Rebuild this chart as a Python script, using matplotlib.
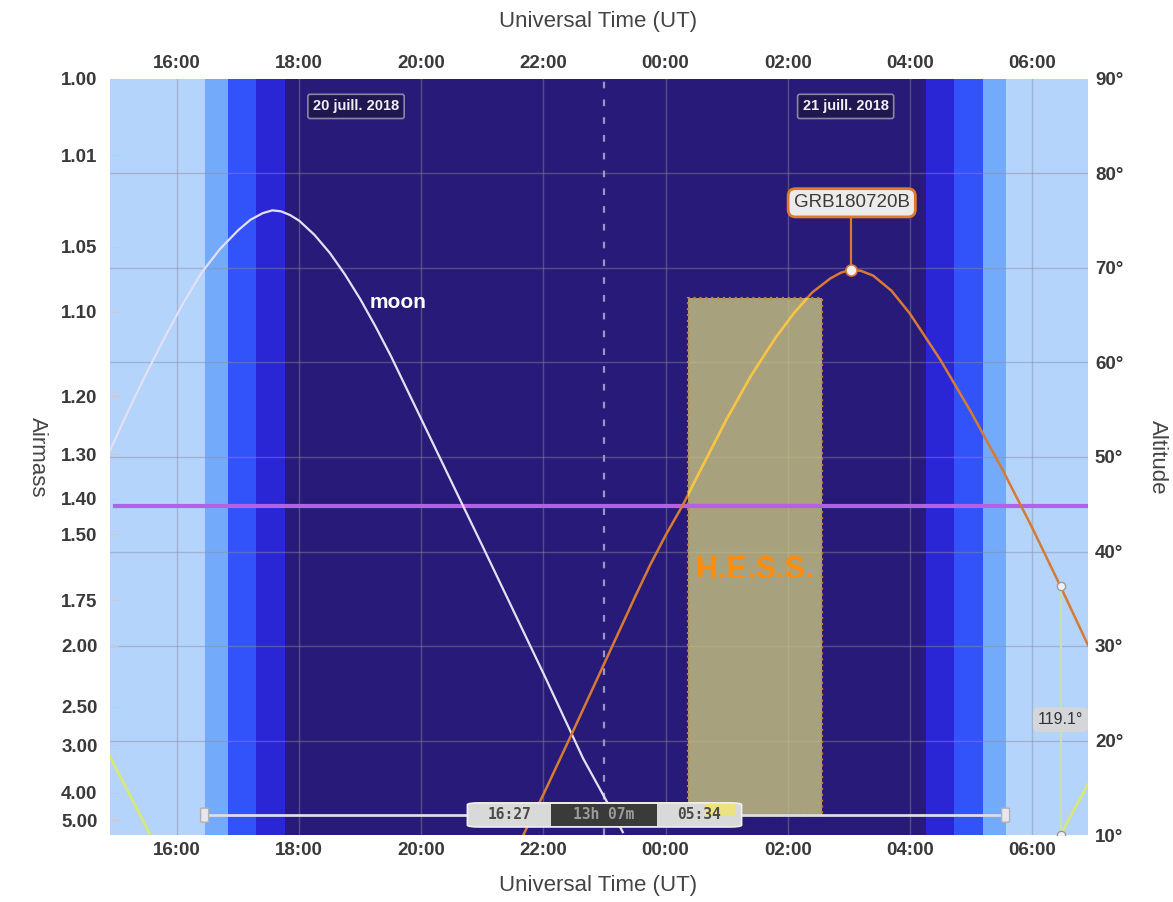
import numpy as np
import matplotlib
matplotlib.use("Agg")
import matplotlib.pyplot as plt
from matplotlib.patches import Rectangle, FancyBboxPatch

plt.rcParams['font.family'] = ['Liberation Sans', 'DejaVu Sans']

# ---- data (time in hours since 2018-07-20 00:00 UT, altitude in degrees) ----
moon_t = [14.90, 15.20, 15.50, 15.80, 16.10, 16.40, 16.70, 17.00, 17.20, 17.40,
          17.56, 17.70, 17.85, 18.00, 18.25, 18.50, 18.75, 19.00, 19.25, 19.50,
          20.00, 20.67, 21.00, 22.00, 22.65, 23.05, 23.30]
moon_alt = [50.7, 54.9, 58.9, 62.7, 66.3, 69.5, 72.0, 74.0, 75.1, 75.8,
            76.1, 76.0, 75.6, 75.0, 73.5, 71.6, 69.3, 66.7, 63.8, 60.7,
            54.0, 45.0, 40.6, 27.1, 18.1, 13.4, 10.3]

grb_t = [21.67, 22.00, 22.50, 23.00, 23.50, 23.75, 24.00, 24.29, 24.50, 25.00,
         25.40, 25.80, 26.10, 26.40, 26.70, 26.87, 27.03, 27.20, 27.40, 27.70,
         28.00, 28.50, 29.00, 29.50, 30.00, 30.47, 30.92]
grb_alt = [10.0, 14.3, 21.2, 28.2, 35.2, 38.6, 41.7, 45.0, 47.7, 54.0,
           58.6, 62.6, 65.2, 67.4, 68.9, 69.5, 69.8, 69.7, 69.2, 67.6,
           65.2, 60.3, 54.8, 48.9, 42.6, 36.3, 30.1]
grb_name = "GRB180720B"
grb_peak_t, grb_peak_alt = 27.03, 69.8

sun_eve_t, sun_eve_alt = [14.90, 15.56], [18.3, 10.0]
sun_morn_t, sun_morn_alt = [30.47, 30.92], [10.0, 15.4]

sep_t, sep_alt = 30.47, [36.3, 10.0]
sep_label = "119.1°"

# twilight boundaries (hours UT) and colours
band_edges = [14.90, 16.45, 16.83, 17.29, 17.77, 28.26, 28.72, 29.20, 29.57, 30.92]
band_colors = ['#b4d4fc', '#74aafa', '#3252fa', '#2a26d6', '#271a78',
               '#2a26d6', '#3252fa', '#74aafa', '#b4d4fc']

sunset_label, night_label, sunrise_label = "16:27", "13h 07m", "05:34"
mid_night = 23.0

# H.E.S.S. observation window
hess_start, hess_end = 24.36, 26.57
hess_alt_low, hess_alt_high = 12.1, 66.8

airmass_limit = 1.42

airmass_ticks = [1.00, 1.01, 1.05, 1.10, 1.20, 1.30, 1.40, 1.50, 1.75, 2.00, 2.50, 3.00, 4.00, 5.00]
alt_ticks = [10, 20, 30, 40, 50, 60, 70, 80, 90]
time_ticks = [16, 18, 20, 22, 24, 26, 28, 30]

date_labels = ["20 juill. 2018", "21 juill. 2018"]
date_label_t = [18.93, 26.95]

# ---- figure ----
fig = plt.figure(figsize=(11.73, 9.02), dpi=100)
ax = fig.add_axes([110 / 1173, 67 / 902, 978 / 1173, 756 / 902])
x0, x1 = 14.90, 30.92
ax.set_xlim(x0, x1)
ax.set_ylim(10, 90)

for s in ax.spines.values():
    s.set_visible(False)

for i, c in enumerate(band_colors):
    ax.axvspan(band_edges[i], band_edges[i + 1], color=c, lw=0, zorder=0)

grid_kw = dict(color='#8c8c9c', alpha=0.45, lw=1.0, zorder=1)
for t in time_ticks:
    ax.axvline(t, **grid_kw)
for a in alt_ticks[1:-1]:
    ax.axhline(a, **grid_kw)

ax.axvline(mid_night, color='#9a96c0', lw=1.6, ls=(0, (3, 5)), zorder=1.5)

# H.E.S.S. window
hess = Rectangle((hess_start, hess_alt_low), hess_end - hess_start,
                 hess_alt_high - hess_alt_low, facecolor='#c8c480', alpha=0.8,
                 edgecolor='none', zorder=2)
ax.add_patch(hess)
ax.add_patch(Rectangle((hess_start, hess_alt_low), hess_end - hess_start,
                       hess_alt_high - hess_alt_low, facecolor='none',
                       edgecolor='#c4842e', ls=':', lw=1.6, zorder=2.1))
ax.text((hess_start + hess_end) / 2, 38.0, "H.E.S.S.", color='#ff8c0a',
        fontsize=22, fontweight='bold', ha='center', va='center', zorder=6)

# airmass limit
ax.axhline(np.degrees(np.arcsin(1 / airmass_limit)), xmin=0.005, color='#b462e4',
           lw=3, zorder=3)

# moon
ax.plot(moon_t, moon_alt, color='#e4e0f4', lw=1.6, zorder=4)
ax.text(19.62, 66.4, "moon", color='white', fontsize=15, ha='center', va='center',
        fontweight='bold', zorder=6)

# sun
ax.plot(sun_eve_t, sun_eve_alt, color='#d6e878', lw=2, zorder=4)
ax.plot(sun_morn_t, sun_morn_alt, color='#d6e878', lw=2, zorder=4)

# target track
ax.plot(grb_t, grb_alt, color='#d77a32', lw=1.8, zorder=4)
inside, = ax.plot(grb_t, grb_alt, color='#f2c64a', lw=2.0, zorder=4.2)
inside.set_clip_path(Rectangle((hess_start, hess_alt_low), hess_end - hess_start,
                               hess_alt_high - hess_alt_low, transform=ax.transData))
ax.plot([grb_peak_t, grb_peak_t], [grb_peak_alt, 75.4], color='#d77a32', lw=1.6, zorder=4.5)
ax.plot(grb_peak_t, grb_peak_alt, 'o', ms=8, mfc='#f4f0f0', mec='#d77a32', mew=1.2, zorder=5)
ax.text(grb_peak_t + 0.02, 76.9, grb_name, color='#3a3a3a', fontsize=13.5,
        ha='center', va='center', zorder=6,
        bbox=dict(boxstyle='round,pad=0.3,rounding_size=0.4', fc='#ecebea',
                  ec='#e07a28', lw=2))

# sun–target separation marker
ax.plot([sep_t, sep_t], sep_alt, color='#c8e2aa', lw=1.5, zorder=4.6)
ax.plot([sep_t, sep_t], sep_alt, 'o', ms=6, mfc='#f0f0f0', mec='#9a9a9a', mew=1, zorder=5)
ax.text(sep_t, 22.2, sep_label, color='#333333', fontsize=11.5, ha='center', va='center',
        zorder=6, bbox=dict(boxstyle='round,pad=0.3,rounding_size=0.3', fc='#d4d6da',
                            ec='none'))

# date labels
for lbl, t in zip(date_labels, date_label_t):
    ax.text(t, 87.1, lbl, color='#f0f0f4', fontsize=10.5, fontweight='bold',
            ha='center', va='center', zorder=6,
            bbox=dict(boxstyle='round,pad=0.35,rounding_size=0.15', fc='#201650',
                      ec='#8a86a8', lw=1.2))

# night-length slider
slider_alt = 12.1
ax.plot([band_edges[1], band_edges[8]], [slider_alt, slider_alt], color='#dcdcec',
        lw=2, zorder=5, solid_capstyle='butt')
px_t = 1 / 61.0
for t in (band_edges[1], band_edges[8]):
    ax.add_patch(FancyBboxPatch((t - 4 * px_t, slider_alt - 0.75), 8 * px_t, 1.5,
                                boxstyle='round,pad=0,rounding_size=0.06',
                                fc='#e8e8ec', ec='#b0b0b8', lw=1, zorder=5.2))
seg_low, seg_h = 10.85, 2.55
segs = [(mid_night - 137 * px_t, 84 * px_t, '#d9d9d9', '#4a4a4a', sunset_label),
        (mid_night - 53 * px_t, 105 * px_t, '#3a3a3a', '#9a9a9a', night_label),
        (mid_night + 52 * px_t, 85 * px_t, '#d9d9d9', '#4a4a4a', sunrise_label)]
ax.add_patch(FancyBboxPatch((segs[0][0], seg_low), sum(s[1] for s in segs), seg_h,
                            boxstyle='round,pad=0,rounding_size=0.2',
                            fc='#d9d9d9', ec='#f0f0f0', lw=1.2, zorder=5.5))
for left, w, fc, tc, txt in segs:
    if fc != '#d9d9d9':
        ax.add_patch(Rectangle((left, seg_low + 0.1), w, seg_h - 0.2, fc=fc, ec='none',
                               zorder=5.6))
    ax.text(left + w / 2, seg_low + seg_h / 2, txt, color=tc, fontsize=10.5,
            family='DejaVu Sans Mono', fontweight='bold', ha='center', va='center',
            zorder=5.8)
ax.add_patch(Rectangle((25.05 - 25 * px_t, seg_low + seg_h * 0.5), 30 * px_t,
                       seg_h * 0.45, fc='#f4e46a', ec='none', alpha=0.8, zorder=5.7))

# axes ticks and labels
tick_font = dict(fontsize=13.5, fontweight='bold', color='#3a3a3a')
ax.set_xticks(time_ticks)
ax.set_xticklabels([f"{t % 24:02d}:00" for t in time_ticks], **tick_font)
ax.tick_params(axis='x', which='both', length=0, pad=5, top=False, labeltop=True)
for lab in ax.get_xticklabels(which='both'):
    lab.set_fontweight('bold')

ax.set_yticks([np.degrees(np.arcsin(1 / m)) for m in airmass_ticks])
ax.set_yticklabels([f"{m:.2f}" for m in airmass_ticks], **tick_font)
ax.tick_params(axis='y', direction='in', length=6, color='#c8c8d8', pad=9)

ax2 = ax.twinx()
ax2.set_ylim(10, 90)
for s in ax2.spines.values():
    s.set_visible(False)
ax2.set_yticks(alt_ticks)
ax2.set_yticklabels([f"{a}°" for a in alt_ticks], **tick_font)
ax2.tick_params(axis='y', length=0, pad=5)

label_font = dict(fontsize=16, color='#444444')
fig.text(598 / 1173, 1 - 22 / 902, "Universal Time (UT)", ha='center', va='center', **label_font)
fig.text(598 / 1173, 1 - 886 / 902, "Universal Time (UT)", ha='center', va='center', **label_font)
fig.text(37 / 1173, 1 - 457 / 902, "Airmass", rotation=-90, ha='center', va='center', **label_font)
fig.text(1157 / 1173, 1 - 457 / 902, "Altitude", rotation=-90, ha='center', va='center', **label_font)

fig.savefig("out.png", dpi=100)
